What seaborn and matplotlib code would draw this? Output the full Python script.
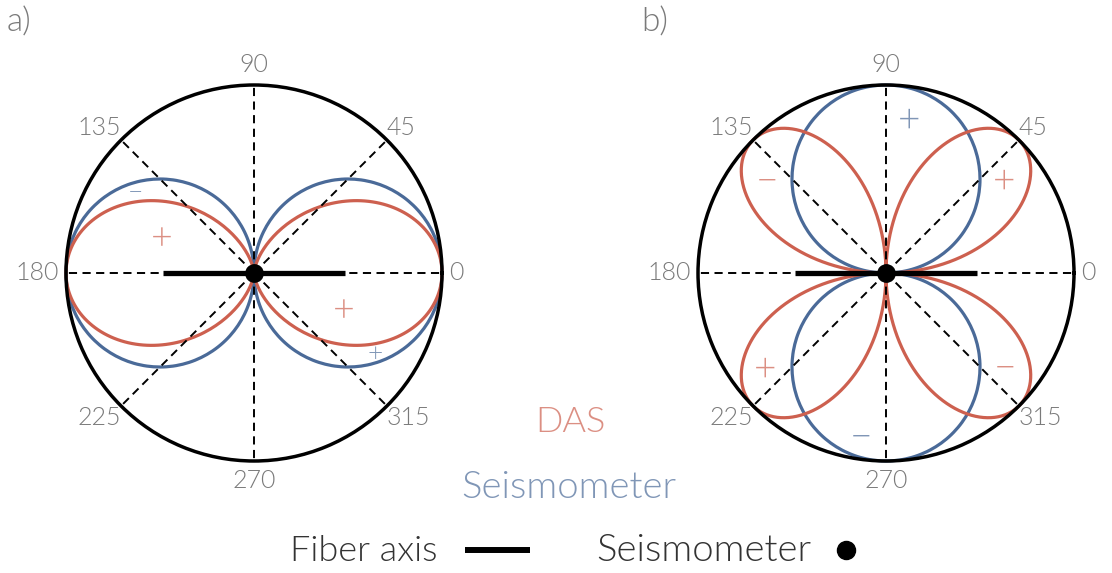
import numpy as np
import pandas as pd
import matplotlib
matplotlib.use("Agg")
import matplotlib.pyplot as plt
from matplotlib.lines import Line2D
import seaborn as sns

sns.set_theme(style="white")
FAM = ["Lato", "DejaVu Sans"]
plt.rcParams["font.family"] = FAM
W = 300  # light weight

# ---------------- data ----------------
angles_deg = list(range(0, 361))
# one quadrant (0..90 deg, 1 deg steps) of each lobe radius
p_seis_q = [1.0000, 0.9998, 0.9994, 0.9986, 0.9976, 0.9962, 0.9945, 0.9925, 0.9903, 0.9877,
            0.9848, 0.9816, 0.9781, 0.9744, 0.9703, 0.9659, 0.9613, 0.9563, 0.9511, 0.9455,
            0.9397, 0.9336, 0.9272, 0.9205, 0.9135, 0.9063, 0.8988, 0.8910, 0.8829, 0.8746,
            0.8660, 0.8572, 0.8480, 0.8387, 0.8290, 0.8192, 0.8090, 0.7986, 0.7880, 0.7771,
            0.7660, 0.7547, 0.7431, 0.7314, 0.7193, 0.7071, 0.6947, 0.6820, 0.6691, 0.6561,
            0.6428, 0.6293, 0.6157, 0.6018, 0.5878, 0.5736, 0.5592, 0.5446, 0.5299, 0.5150,
            0.5000, 0.4848, 0.4695, 0.4540, 0.4384, 0.4226, 0.4067, 0.3907, 0.3746, 0.3584,
            0.3420, 0.3256, 0.3090, 0.2924, 0.2756, 0.2588, 0.2419, 0.2250, 0.2079, 0.1908,
            0.1736, 0.1564, 0.1392, 0.1219, 0.1045, 0.0872, 0.0698, 0.0523, 0.0349, 0.0175,
            0.0000]
p_das_q = [1.0000, 0.9997, 0.9988, 0.9973, 0.9951, 0.9924, 0.9891, 0.9851, 0.9806, 0.9755,
           0.9698, 0.9636, 0.9568, 0.9494, 0.9415, 0.9330, 0.9240, 0.9145, 0.9045, 0.8940,
           0.8830, 0.8716, 0.8597, 0.8473, 0.8346, 0.8214, 0.8078, 0.7939, 0.7796, 0.7650,
           0.7500, 0.7347, 0.7192, 0.7034, 0.6873, 0.6710, 0.6545, 0.6378, 0.6209, 0.6040,
           0.5868, 0.5696, 0.5523, 0.5349, 0.5175, 0.5000, 0.4825, 0.4651, 0.4477, 0.4304,
           0.4132, 0.3960, 0.3791, 0.3622, 0.3455, 0.3290, 0.3127, 0.2966, 0.2808, 0.2653,
           0.2500, 0.2350, 0.2204, 0.2061, 0.1922, 0.1786, 0.1654, 0.1527, 0.1403, 0.1284,
           0.1170, 0.1060, 0.0955, 0.0855, 0.0760, 0.0670, 0.0585, 0.0506, 0.0432, 0.0364,
           0.0302, 0.0245, 0.0194, 0.0149, 0.0109, 0.0076, 0.0049, 0.0027, 0.0012, 0.0003,
           0.0000]
s_seis_q = p_seis_q[::-1]
# S-wave DAS lobe, 0..45 deg (the 45..90 half mirrors it)
s_das_half = [0.0000, 0.0349, 0.0698, 0.1045, 0.1392, 0.1736, 0.2079, 0.2419, 0.2756, 0.3090,
              0.3420, 0.3746, 0.4067, 0.4384, 0.4695, 0.5000, 0.5299, 0.5592, 0.5878, 0.6157,
              0.6428, 0.6691, 0.6947, 0.7193, 0.7431, 0.7660, 0.7880, 0.8090, 0.8290, 0.8480,
              0.8660, 0.8829, 0.8988, 0.9135, 0.9272, 0.9397, 0.9511, 0.9613, 0.9703, 0.9781,
              0.9848, 0.9903, 0.9945, 0.9976, 0.9994, 1.0000]
s_das_q = s_das_half + s_das_half[::-1][1:]


def mirror(q):
    return q + q[::-1][1:] + q[1:] + q[::-1][1:]


seis_a = mirror(p_seis_q)
das_a = mirror(p_das_q)
seis_b = mirror(s_seis_q)
das_b = s_das_q + s_das_q[1:] + s_das_q[1:] + s_das_q[1:]

tick_angles = [0, 45, 90, 135, 180, 225, 270, 315]
tick_labels = ["0", "45", "90", "135", "180", "225", "270", "315"]

# polarity signs: (angle deg, radius, text, series, size)
signs_a = [(158, 0.53, "+", "DAS", 27), (339, 0.51, "+", "DAS", 27),
           (145, 0.77, "\u2212", "Seis", 19), (327, 0.77, "+", "Seis", 19)]
signs_b = [(81.7, 0.84, "+", "Seis", 28), (38.8, 0.805, "+", "DAS", 28),
           (141.6, 0.81, "\u2212", "DAS", 28), (217.5, 0.81, "+", "DAS", 28),
           (322.3, 0.80, "\u2212", "DAS", 28), (261, 0.865, "\u2212", "Seis", 28)]

BLUE = "#4a6a98"
RED = "#cd604f"
GRAY = "#7a7a7a"

fig = plt.figure(figsize=(11.12, 5.73), dpi=100)


def panel(left_px, seis, das, signs, letter, letter_x):
    ax = fig.add_axes([left_px / 1112, 112 / 573, 376 / 1112, 376 / 573],
                      projection="polar")
    df = pd.DataFrame({"theta": np.deg2rad(angles_deg), "seis": seis, "das": das})
    sns.lineplot(data=df, x="theta", y="seis", ax=ax, sort=False, color=BLUE,
                 lw=2.3, estimator=None, clip_on=False, zorder=2)
    sns.lineplot(data=df, x="theta", y="das", ax=ax, sort=False, color=RED,
                 lw=2.3, estimator=None, clip_on=False, zorder=2)
    ax.set_xlabel("")
    ax.set_ylabel("")
    ax.set_ylim(0, 1)
    ax.set_thetagrids(tick_angles, labels=[""] * len(tick_angles))
    ax.set_rgrids([0.5], labels=[""])
    ax.yaxis.grid(False)
    ax.xaxis.grid(True, color="black", lw=1.4, ls=(0, (4.2, 2.8)))
    ax.set_axisbelow(False)
    ax.spines["polar"].set_linewidth(2.5)
    ax.spines["polar"].set_color("black")
    ax.spines["polar"].set_zorder(4)
    ax.set_facecolor("none")
    align = {0: ("left", "center", 1.04), 45: ("left", "bottom", 1.0),
             90: ("center", "bottom", 1.04), 135: ("right", "bottom", 1.0),
             180: ("right", "center", 1.04), 225: ("right", "top", 1.0),
             270: ("center", "top", 1.04), 315: ("left", "top", 1.0)}
    for a, lab in zip(tick_angles, tick_labels):
        ha, va, r = align[a]
        ax.text(np.deg2rad(a), r, lab, ha=ha, va=va, fontsize=18, color=GRAY,
                fontweight=W, family=FAM, clip_on=False)
    ax.plot([0, 0], [0, 0.485], color="black", lw=3.8, solid_capstyle="butt", zorder=5)
    ax.plot([np.pi, np.pi], [0, 0.485], color="black", lw=3.8, solid_capstyle="butt", zorder=5)
    ax.plot([0], [0], "o", color="black", ms=12.5, zorder=6, clip_on=False)
    for a, r, s, ser, fs in signs:
        ax.text(np.deg2rad(a), r, s, ha="center", va="center_baseline", fontsize=fs,
                color=RED if ser == "DAS" else BLUE, alpha=0.7,
                fontweight=W, family=FAM)
    fig.text(letter_x / 1112, 1 - 32 / 573, letter, ha="left", va="baseline",
             fontsize=24, color=GRAY, fontweight=W, family=FAM)
    return ax


panel(66, seis_a, das_a, signs_a, "a)", 7)
panel(698, seis_b, das_b, signs_b, "b)", 641)

fig.text(570 / 1112, 1 - 432 / 573, "DAS", ha="center", va="baseline",
         fontsize=26, color=RED, alpha=0.7, fontweight=W, family=FAM)
fig.text(569 / 1112, 1 - 498 / 573, "Seismometer", ha="center", va="baseline",
         fontsize=27.5, color=BLUE, alpha=0.7, fontweight=W, family=FAM)

fig.text(438 / 1112, 1 - 561 / 573, "Fiber axis", ha="right", va="baseline",
         fontsize=26, color="#333333", fontweight=W, family=FAM)
fig.add_artist(Line2D([465 / 1112, 530 / 1112], [1 - 550 / 573, 1 - 550 / 573],
                      transform=fig.transFigure, color="black", lw=4.3,
                      solid_capstyle="butt"))
fig.text(596 / 1112, 1 - 561 / 573, "Seismometer", ha="left", va="baseline",
         fontsize=27.5, color="#333333", fontweight=W, family=FAM)
fig.add_artist(Line2D([846 / 1112], [1 - 550 / 573], transform=fig.transFigure,
                      marker="o", color="black", ms=13, lw=0))

fig.savefig("out.png", dpi=100)
